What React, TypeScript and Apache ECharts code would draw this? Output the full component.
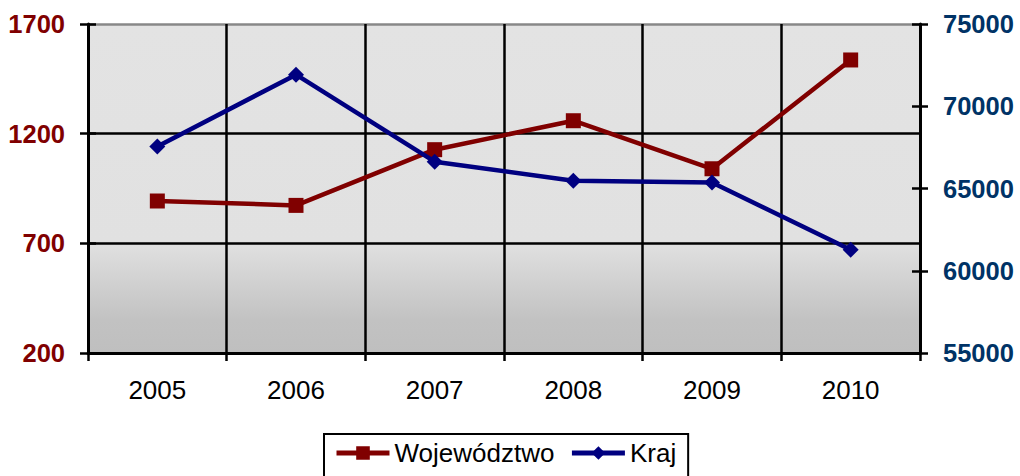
import React, { useEffect, useRef } from "react";
import * as echarts from "echarts";

const years = ["2005", "2006", "2007", "2008", "2009", "2010"];
const wojewodztwo = [893, 873, 1127, 1259, 1040, 1536];
const kraj = [67560, 71920, 66630, 65470, 65370, 61280];
const seriesNames = ["Województwo", "Kraj"];
const leftMin = 200;
const leftMax = 1700;
const leftStep = 500;
const rightMin = 55000;
const rightMax = 75000;
const rightStep = 5000;

const FONT = "Liberation Sans, Arial, sans-serif";

export default function App() {
  const ref = useRef<HTMLDivElement>(null);
  useEffect(() => {
    if (!ref.current) return;
    const chart = echarts.init(ref.current, null, { renderer: "svg" });
    const tickInside = (pos: "left" | "right") => ({
      type: "value",
      position: pos,
      min: pos === "left" ? leftMin : rightMin,
      max: pos === "left" ? leftMax : rightMax,
      interval: pos === "left" ? leftStep : rightStep,
      axisLine: { show: false },
      axisTick: { show: true, inside: true, length: 8, lineStyle: { color: "#000", width: 2.5 } },
      axisLabel: { show: false },
      splitLine: { show: false },
    });
    chart.setOption({
      animation: false,
      grid: {
        left: 88,
        right: 100,
        top: 24,
        bottom: 123,
        show: true,
        borderWidth: 0,
        backgroundColor: new echarts.graphic.LinearGradient(0, 0, 0, 1, [
          { offset: 0, color: "#e3e3e3" },
          { offset: 0.66, color: "#e1e1e1" },
          { offset: 0.9, color: "#c2c2c2" },
          { offset: 1, color: "#bfbfbf" },
        ]),
      },
      legend: {
        left: 324,
        top: 434,
        padding: [6, 12, 12, 10],
        itemGap: 15,
        itemWidth: 53,
        itemHeight: 17,
        borderColor: "#000",
        borderWidth: 2,
        backgroundColor: "#fff",
        lineStyle: { width: 5 },
        textStyle: { fontSize: 26, color: "#000", fontFamily: FONT },
        data: seriesNames.map((n) => ({ name: n, lineStyle: { width: 5 } })),
      },
      xAxis: {
        type: "category",
        data: years,
        boundaryGap: true,
        axisLine: { lineStyle: { color: "#000", width: 3 } },
        axisTick: { show: true, length: 8, lineStyle: { color: "#000", width: 2.5 } },
        axisLabel: { fontSize: 26, color: "#000", fontFamily: FONT, margin: 24 },
        splitLine: { show: true, lineStyle: { color: "#000", width: 2.5 } },
      },
      yAxis: [
        {
          type: "value",
          position: "left",
          min: leftMin,
          max: leftMax,
          interval: leftStep,
          axisLine: { show: true, lineStyle: { color: "#000", width: 3 } },
          axisTick: { show: true, length: 8, lineStyle: { color: "#000", width: 2.5 } },
          axisLabel: {
            fontSize: 25.5,
            fontWeight: "bold",
            color: "#800000",
            fontFamily: FONT,
            margin: 23,
            formatter: (v: number) => String(v),
          },
          splitLine: { show: true, lineStyle: { color: ["#000", "#000", "#000", "#888"], width: 2.5 } },
        },
        {
          type: "value",
          position: "right",
          min: rightMin,
          max: rightMax,
          interval: rightStep,
          axisLine: { show: true, lineStyle: { color: "#000", width: 3 } },
          axisTick: { show: true, length: 8, lineStyle: { color: "#000", width: 2.5 } },
          axisLabel: {
            fontSize: 25.5,
            fontWeight: "bold",
            color: "#003366",
            fontFamily: FONT,
            margin: 23,
            formatter: (v: number) => String(v),
          },
          splitLine: { show: false },
        },
        tickInside("left"),
        tickInside("right"),
      ],
      series: [
        {
          name: seriesNames[0],
          type: "line",
          yAxisIndex: 0,
          data: wojewodztwo,
          symbol: "rect",
          symbolSize: 15,
          color: "#800000",
          lineStyle: { width: 4.5, color: "#800000" },
          itemStyle: { color: "#800000" },
          z: 3,
        },
        {
          name: seriesNames[1],
          type: "line",
          yAxisIndex: 1,
          data: kraj,
          symbol: "diamond",
          symbolSize: 16,
          color: "#000080",
          lineStyle: { width: 4.5, color: "#000080" },
          itemStyle: { color: "#000080" },
          z: 4,
        },
      ],
    });
    return () => chart.dispose();
  }, []);
  return (
    <div
      ref={ref}
      style={{ position: "fixed", left: 0, top: 0, width: 1020, height: 476, background: "#fff" }}
    />
  );
}
